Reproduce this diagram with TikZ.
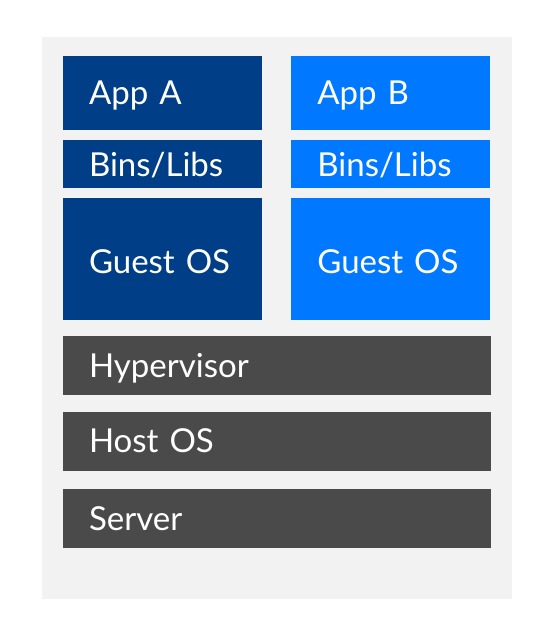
\documentclass[tikz,border=0pt]{standalone}
\usepackage{fontspec}
\setmainfont{Lato}
\usetikzlibrary{positioning}

\definecolor{panelgray}{HTML}{F2F2F2}
\definecolor{vmdark}{HTML}{003F87}
\definecolor{vmlight}{HTML}{0078FF}
\definecolor{layergray}{HTML}{4A4A4A}

\begin{document}
\begin{tikzpicture}[
    x=1pt, y=-1pt,
    node distance=10pt and 29pt,
    % Styles
    block/.style={rectangle, draw=none, align=left, inner xsep=26pt, inner ysep=0pt,
        text=white, font=\fontsize{33}{38}\selectfont, text height=23.5pt, text depth=0pt},
    vm/.style={block, text width=147pt},
    vma/.style={vm, fill=vmdark},
    vmb/.style={vm, fill=vmlight},
    layer/.style={block, fill=layergray, text width=376pt, minimum height=59pt}
]
    % panel and page size
    \useasboundingbox (0,0) rectangle (533,629);
    \fill[panelgray] (41.5,37) rectangle (512,599);

    % --- VM A ---
    \node[vma, minimum height=74pt] (appA) at (162.5,93) {App A};
    \node[vma, minimum height=48pt, below=10pt of appA] (binsA) {Bins/Libs};
    \node[vma, minimum height=122pt, below=9pt of binsA, text height=30pt] (guestA) {Guest OS};

    % --- VM B ---
    \node[vmb, minimum height=74pt, right=of appA] (appB) {App B};
    \node[vmb, minimum height=48pt, below=10pt of appB] (binsB) {Bins/Libs};
    \node[vmb, minimum height=122pt, below=9pt of binsB, text height=30pt] (guestB) {Guest OS};

    % --- shared layers ---
    \node[layer, below=16pt of guestA.south west, anchor=north west] (hyper) {Hypervisor};
    \node[layer, below=16pt of hyper] (hostos) {Host OS};
    \node[layer, below=18pt of hostos] (server) {Server};
\end{tikzpicture}
\end{document}
